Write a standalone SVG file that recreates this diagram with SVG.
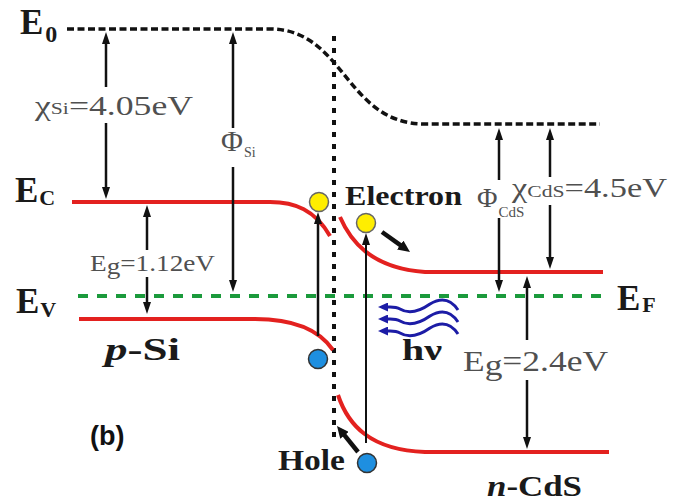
<svg xmlns="http://www.w3.org/2000/svg" width="682" height="501" viewBox="0 0 682 501">
<style>
.lbl{font-family:"Liberation Serif","Times New Roman",serif;font-weight:bold;fill:#1a1a1a}
.val{font-family:"Liberation Serif","Times New Roman",serif;fill:#505050}
.band{fill:none;stroke:#e3211f;stroke-width:4}
.vac{fill:none;stroke:#111;stroke-width:3.5;stroke-dasharray:7 3.5}
.ef{fill:none;stroke:#1b9a3c;stroke-width:4;stroke-dasharray:10 9}
.junc{fill:none;stroke:#111;stroke-width:4;stroke-dasharray:5 7}
.arr{stroke:#111;stroke-width:2.5;marker-end:url(#ah)}
.thick{stroke:#111;stroke-width:4.5;marker-end:url(#ahb)}
.wave{fill:none;stroke:#1c1ca6;stroke-width:3;marker-end:url(#ahw)}
.el{fill:#ffee00;stroke:#666;stroke-width:1.5}
.ho{fill:#1e8fe0;stroke:#333;stroke-width:1.5}
</style>
<defs>
<marker id="ah" viewBox="0 0 12 8" refX="4" refY="4" markerWidth="12" markerHeight="8" markerUnits="userSpaceOnUse" orient="auto"><path d="M0,0 L12,4 L0,8 z" fill="#111"/></marker>
<marker id="ahb" viewBox="0 0 12 11" refX="4" refY="5.5" markerWidth="12" markerHeight="11" markerUnits="userSpaceOnUse" orient="auto"><path d="M0,0 L12,5.5 L0,11 z" fill="#111"/></marker>
<marker id="ahw" viewBox="0 0 10 9" refX="4" refY="4.5" markerWidth="10" markerHeight="9" markerUnits="userSpaceOnUse" orient="auto"><path d="M0,0 L10,4.5 L0,9 z" fill="#1c1ca6"/></marker>
</defs>
<rect width="682" height="501" fill="#fff"/>

<g id="levels">
<path class="vac" d="M67,29 L270,29 C345,29 345,124 425,124 L600,124"/>
<line class="junc" x1="334" y1="36" x2="334" y2="440"/>
<path class="band" d="M72,202 L270,202 C295,202 315,210 330,236"/>
<path class="band" d="M340,217 C350,240 370,268 425,272 L603,272"/>
<path class="band" d="M79,319 L255,319 C290,319 318,328 333,350"/>
<path class="band" d="M338,395 C348,425 370,450 425,452 L609,452"/>
<line class="ef" x1="78" y1="296" x2="608" y2="296"/>
</g>

<g id="connectors">
<line class="arr" x1="106" y1="87" x2="106" y2="40"/>
<line class="arr" x1="106" y1="123" x2="106" y2="191"/>
<line class="arr" x1="233" y1="128" x2="233" y2="40"/>
<line class="arr" x1="233" y1="167" x2="233" y2="284"/>
<line class="arr" x1="147" y1="250" x2="147" y2="213"/>
<line class="arr" x1="147" y1="277" x2="147" y2="306"/>
<line class="arr" x1="318" y1="336" x2="318" y2="220"/>
<line class="arr" x1="366" y1="443" x2="366" y2="241" style="stroke-width:2"/>
<line class="arr" x1="499" y1="180" x2="499" y2="136"/>
<line class="arr" x1="499" y1="218" x2="499" y2="284"/>
<line class="arr" x1="550" y1="177" x2="550" y2="136"/>
<line class="arr" x1="550" y1="205" x2="550" y2="261"/>
<line class="arr" x1="527" y1="340" x2="527" y2="284"/>
<line class="arr" x1="527" y1="380" x2="527" y2="441"/>
<line class="thick" x1="382" y1="232" x2="403.5" y2="247.4"/>
<line class="thick" x1="358" y1="452" x2="342" y2="432.2"/>
<path class="wave" d="M458,310 C450,298 440,298 430,304 C420,311 410,315 400,309 C395,306 392,307 384,307"/>
<path class="wave" d="M458,322 C450,310 440,310 430,316 C420,323 410,327 400,321 C395,318 392,319 384,319"/>
<path class="wave" d="M458,334 C450,322 440,322 430,328 C420,335 410,339 400,333 C395,330 392,331 384,331"/>
</g>

<g id="carriers">
<circle class="el" cx="319" cy="202" r="9.5"/>
<circle class="el" cx="366" cy="223" r="9.5"/>
<circle class="ho" cx="318" cy="359" r="9.5"/>
<circle class="ho" cx="367" cy="463" r="9.5"/>
</g>

<g id="labels">
<text class="lbl" x="20" y="34" font-size="35">E<tspan font-size="24" dx="2" dy="8">0</tspan></text>
<text class="lbl" x="15" y="202" font-size="35">E<tspan font-size="22" dx="1" dy="3">C</tspan></text>
<text class="lbl" x="16" y="313" font-size="35">E<tspan font-size="22" dx="1" dy="4">V</tspan></text>
<text class="lbl" x="617" y="310" font-size="35">E<tspan font-size="22" dx="2" dy="2">F</tspan></text>
<text class="val" x="35" y="115" font-size="28" textLength="158" lengthAdjust="spacingAndGlyphs">χ<tspan font-size="17" dy="-1">Si</tspan><tspan dy="1">=4.05eV</tspan></text>
<text class="val" x="221" y="151" font-size="30">Φ<tspan font-size="14" dx="1" dy="6">Si</tspan></text>
<text class="val" x="90" y="271" font-size="24" textLength="125" lengthAdjust="spacingAndGlyphs">E<tspan dy="3">g</tspan><tspan dy="-3">=1.12eV</tspan></text>
<text class="lbl" x="345" y="205" font-size="28" textLength="117" lengthAdjust="spacingAndGlyphs">Electron</text>
<text class="val" x="477" y="207" font-size="28">Φ<tspan font-size="15" dx="1" dy="10">CdS</tspan></text>
<text class="val" x="512" y="197" font-size="27" textLength="155" lengthAdjust="spacingAndGlyphs">χ<tspan font-size="17">CdS</tspan>=4.5eV</text>
<text class="val" x="463" y="371" font-size="30" textLength="145" lengthAdjust="spacingAndGlyphs">E<tspan dy="4">g</tspan><tspan dy="-4">=2.4eV</tspan></text>
<text class="lbl" x="402" y="360" font-size="30" textLength="40" lengthAdjust="spacingAndGlyphs">hν</text>
<text class="lbl" x="105" y="360" font-size="32" textLength="75" lengthAdjust="spacingAndGlyphs"><tspan font-style="italic">p</tspan>-Si</text>
<text x="90" y="445" font-family="'Liberation Sans',Arial,sans-serif" font-weight="bold" font-size="27" fill="#111">(b)</text>
<text class="lbl" x="278" y="470" font-size="29" textLength="67" lengthAdjust="spacingAndGlyphs">Hole</text>
<text class="lbl" x="487" y="496" font-size="30" textLength="95" lengthAdjust="spacingAndGlyphs"><tspan font-style="italic">n</tspan>-CdS</text>
</g>
</svg>
